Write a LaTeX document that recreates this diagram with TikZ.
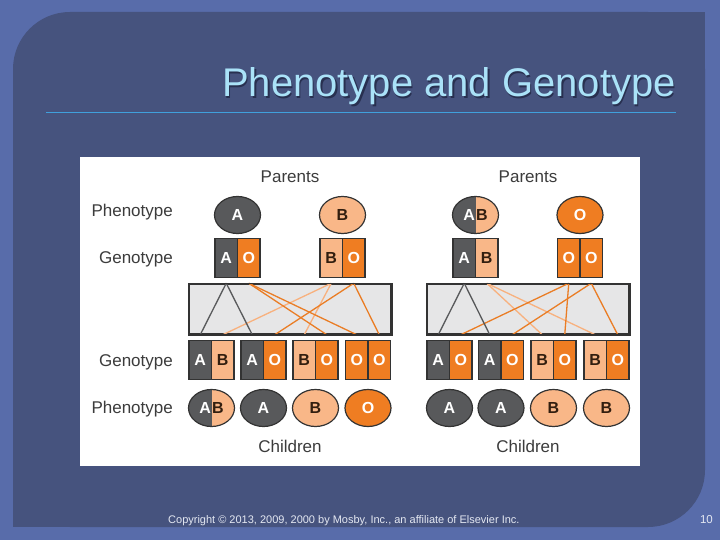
\documentclass[tikz,border=0pt]{standalone}
\usepackage{fontspec}
\setmainfont{Liberation Sans}
\usetikzlibrary{shapes.geometric}

\definecolor{outerbg}{RGB}{88,108,170}
\definecolor{panelbg}{RGB}{70,83,126}
\definecolor{titlecol}{RGB}{170,226,248}
\definecolor{titleshade}{RGB}{40,48,80}
\definecolor{rulecol}{RGB}{64,160,220}
\definecolor{footcol}{RGB}{228,232,242}
\definecolor{agray}{RGB}{88,89,91}
\definecolor{borange}{RGB}{249,183,136}
\definecolor{oorange}{RGB}{239,125,34}
\definecolor{btext}{RGB}{50,30,15}
\definecolor{boxline}{RGB}{51,51,51}
\definecolor{crossbg}{RGB}{230,230,231}
\definecolor{labcol}{RGB}{60,60,60}

\tikzset{
  cell/.style={draw=boxline, line width=1.2pt, minimum width=22.5pt, minimum height=39pt,
    inner sep=0pt, font=\bfseries\fontsize{16}{16}\selectfont},
  acell/.style={cell, fill=agray, text=white},
  bcell/.style={cell, fill=borange, text=btext},
  ocell/.style={cell, fill=oorange, text=white},
  pheno/.style={ellipse, draw=boxline, line width=1.2pt, minimum width=46pt, minimum height=37pt,
    inner sep=0pt, font=\bfseries\fontsize{16}{16}\selectfont},
  aphen/.style={pheno, fill=agray, text=white},
  bphen/.style={pheno, fill=borange, text=btext},
  ophen/.style={pheno, fill=oorange, text=white},
  abphen/.style={pheno, fill=borange,
    path picture={\fill[agray] (path picture bounding box.south west) rectangle (path picture bounding box.north);}},
  xbox/.style={draw=boxline, fill=crossbg, line width=1.5pt, minimum width=202pt, minimum height=50pt, inner sep=0pt},
  lab/.style={text=labcol, font=\fontsize{17}{17}\selectfont, inner sep=0pt},
  aline/.style={draw=agray, line width=1.3pt},
  bline/.style={draw=borange!90!oorange, line width=1.3pt},
  oline/.style={draw=oorange!90!brown, line width=1.3pt},
}

\begin{document}
\begin{tikzpicture}[x=1pt,y=-1pt]
  \useasboundingbox (0,0) rectangle (720,540);
  \fill[outerbg] (0,0) rectangle (720,540);
  % slide panel, round only top left and bottom right
  \fill[panelbg, rounded corners=57pt] (13,12) rectangle (705,527);
  \fill[panelbg] (600,12) rectangle (705,150);
  \fill[panelbg] (13,400) rectangle (150,527);

  \node[anchor=base east, text=titleshade, font=\fontsize{40}{40}\selectfont, inner sep=0pt]
    (ttlshade) at (677.5,98.5) {Phenotype and Genotype};
  \node[anchor=base east, text=titlecol, font=\fontsize{40}{40}\selectfont, inner sep=0pt]
    (ttl) at (676,97) {Phenotype and Genotype};
  \draw[rulecol, line width=1pt] (46,112.5) -- (676,112.5);

  \fill[white] (80,157) rectangle (640,466);

  % left cross: AO x BO
  \node[lab, anchor=base] (lpar) at (290,183) {Parents};
  \node[lab, anchor=base east] (lphen1) at (173,216) {Phenotype};
  \node[lab, anchor=base east] (lgen1) at (173,263) {Genotype};
  \node[lab, anchor=base east] (lgen2) at (173,366) {Genotype};
  \node[lab, anchor=base east] (lphen2) at (173,413) {Phenotype};
  \node[lab, anchor=base] (lchild) at (290,452) {Children};

  \node[aphen] (lpf1) at (237.5,215) {A};
  \node[bphen] (lpf2) at (342.5,215) {B};
  \node[acell] (lpl1) at (226.25,258) {A};
  \node[ocell] (lpr1) at (248.75,258) {O};
  \node[bcell] (lpl2) at (331.25,258) {B};
  \node[ocell] (lpr2) at (353.75,258) {O};

  \node[xbox] (xl) at (290,309) {};

  \foreach \n/\x/\sl/\sr/\tl/\tr in {1/211.5/acell/bcell/A/B, 2/263.5/acell/ocell/A/O,
      3/315.5/bcell/ocell/B/O, 4/368/ocell/ocell/O/O}{
    \node[\sl] (lcl\n) at (\x-11.25,360) {\tl};
    \node[\sr] (lcr\n) at (\x+11.25,360) {\tr};
  }
  \node[abphen] (lcf1) at (211.5,408) {\textcolor{white}{A}\kern1pt\textcolor{btext}{B}};
  \node[aphen] (lcf2) at (263.5,408) {A};
  \node[bphen] (lcf3) at (315.5,408) {B};
  \node[ophen] (lcf4) at (368,408) {O};

  \draw[bline] (lpl2 |- xl.north) -- (lcr1 |- xl.south);
  \draw[bline] (lpl2 |- xl.north) -- (lcl3 |- xl.south);
  \draw[oline] (lpr1 |- xl.north) -- (lcr3 |- xl.south);
  \draw[oline] (lpr1 |- xl.north) -- (lcl4 |- xl.south);
  \draw[oline] (lpr2 |- xl.north) -- (lcr2 |- xl.south);
  \draw[oline] (lpr2 |- xl.north) -- (lcr4 |- xl.south);
  \draw[aline] (lpl1 |- xl.north) -- (lcl1 |- xl.south);
  \draw[aline] (lpl1 |- xl.north) -- (lcl2 |- xl.south);
  \draw[boxline, line width=1.5pt] (xl.north west) rectangle (xl.south east);

  % right cross: AB x OO
  \node[lab, anchor=base] (rpar) at (528,183) {Parents};
  \node[lab, anchor=base] (rchild) at (528,452) {Children};

  \node[abphen] (rpf1) at (475.5,215) {\textcolor{white}{A}\kern1pt\textcolor{btext}{B}};
  \node[ophen] (rpf2) at (580,215) {O};
  \node[acell] (rpl1) at (464.25,258) {A};
  \node[bcell] (rpr1) at (486.75,258) {B};
  \node[ocell] (rpl2) at (568.75,258) {O};
  \node[ocell] (rpr2) at (591.25,258) {O};

  \node[xbox] (xr) at (528,309) {};

  \foreach \n/\x/\sl/\tl in {1/449.5/acell/A, 2/501/acell/A, 3/553.5/bcell/B, 4/606.5/bcell/B}{
    \node[\sl] (rcl\n) at (\x-11.25,360) {\tl};
    \node[ocell] (rcr\n) at (\x+11.25,360) {O};
  }
  \node[aphen] (rcf1) at (449.5,408) {A};
  \node[aphen] (rcf2) at (501,408) {A};
  \node[bphen] (rcf3) at (553.5,408) {B};
  \node[bphen] (rcf4) at (606.5,408) {B};

  \draw[bline] (rpr1 |- xr.north) -- (rcl3 |- xr.south);
  \draw[bline] (rpr1 |- xr.north) -- (rcl4 |- xr.south);
  \draw[oline] (rpl2 |- xr.north) -- (rcr1 |- xr.south);
  \draw[oline] (rpl2 |- xr.north) -- (rcr3 |- xr.south);
  \draw[oline] (rpr2 |- xr.north) -- (rcr2 |- xr.south);
  \draw[oline] (rpr2 |- xr.north) -- (rcr4 |- xr.south);
  \draw[aline] (rpl1 |- xr.north) -- (rcl1 |- xr.south);
  \draw[aline] (rpl1 |- xr.north) -- (rcl2 |- xr.south);
  \draw[boxline, line width=1.5pt] (xr.north west) rectangle (xr.south east);

  \node[anchor=base west, text=footcol, font=\fontsize{11}{11}\selectfont, inner sep=0pt]
    (copy) at (168,523) {Copyright © 2013, 2009, 2000 by Mosby, Inc., an affiliate of Elsevier Inc.};
  \node[anchor=base east, text=footcol, font=\fontsize{11.5}{11.5}\selectfont, inner sep=0pt]
    (pageno) at (713,523) {10};
\end{tikzpicture}
\end{document}
